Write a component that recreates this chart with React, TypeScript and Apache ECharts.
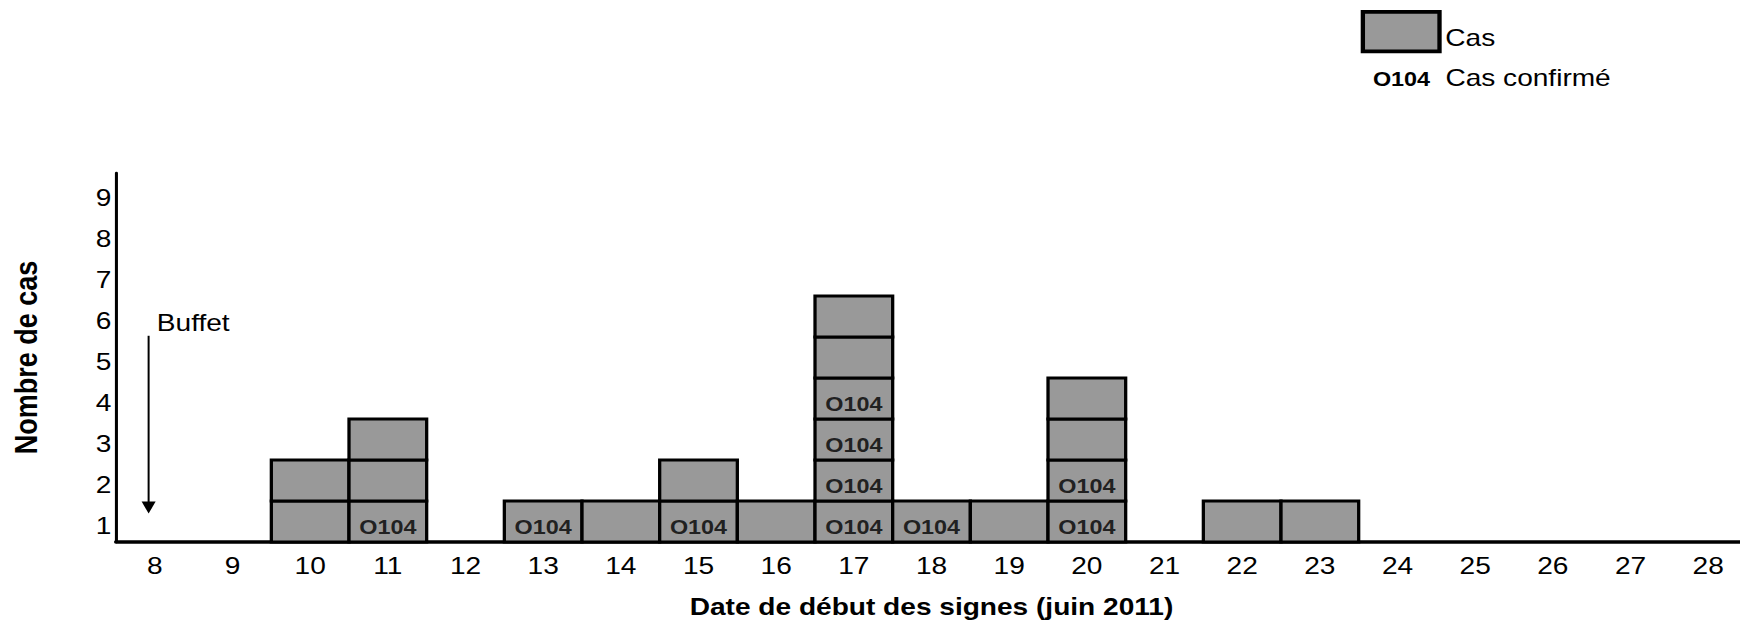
import React, { useEffect, useRef } from "react";
import * as echarts from "echarts";

// ---------- data ----------
const DAYS = ["8", "9", "10", "11", "12", "13", "14", "15", "16", "17", "18", "19", "20", "21", "22", "23", "24", "25", "26", "27", "28"];
const CASES = [0, 0, 2, 3, 0, 1, 1, 2, 1, 6, 1, 1, 4, 0, 1, 1, 0, 0, 0, 0, 0];
const CONFIRMED = [0, 0, 0, 1, 0, 1, 0, 1, 0, 4, 1, 0, 2, 0, 0, 0, 0, 0, 0, 0, 0];
const Y_LABELS = ["1", "2", "3", "4", "5", "6", "7", "8", "9"];
const CONFIRMED_TAG = "O104";

// annotation (day position on a continuous day scale, case-count heights)
const BUFFET_DAY = 7.92;
const BUFFET_ARROW_TOP = 5.03;
const BUFFET_ARROW_END = 0.84;
const BUFFET_LABEL_Y = 5.36;

// ---------- layout ----------
const FULL_W = 1740;
const H = 622;
const W = 1487; // drawn narrower, then stretched horizontally like the reference
const STRETCH = FULL_W / W;
const FONT = "'Liberation Sans', Arial, Helvetica, sans-serif";

export default function App() {
  const ref = useRef<HTMLDivElement>(null);

  useEffect(() => {
    if (!ref.current) return;
    const chart = echarts.init(ref.current, null, { renderer: "svg" });

    // one cell per case: [day, level]
    const cells: any[] = [];
    CASES.forEach((n, i) => {
      for (let L = 1; L <= n; L++) cells.push([DAYS[i], L]);
    });

    const confirmedPoints: any[] = [];
    CONFIRMED.forEach((n, i) => {
      for (let L = 1; L <= n; L++) confirmedPoints.push([DAYS[i], L - 0.5]);
    });

    const option: any = {
      animation: false,
      backgroundColor: "#ffffff",
      textStyle: { fontFamily: FONT },
      grid: {
        left: 116 / STRETCH,
        right: -6,
        top: 173,
        bottom: 80,
        containLabel: false,
        outerBoundsMode: "none",
      },
      legend: [
        {
          data: ["Cas"],
          left: 1360.7 / STRETCH,
          top: 10,
          padding: 0,
          icon: "rect",
          itemWidth: 65.5,
          itemHeight: 39.6,
          selectedMode: false,
          itemStyle: { color: "#999999", borderColor: "#000000", borderWidth: 3.7 },
          formatter: (name: string) => `{c|${name}}`,
          textStyle: {
            fontFamily: FONT,
            fontSize: 24,
            color: "#000",
            rich: {
              c: { fontFamily: FONT, fontSize: 24, color: "#000", padding: [12, 0, 0, 0] },
            },
          },
        },
        {
          data: ["Cas confirmé"],
          left: 1164.3,
          top: 65.5,
          padding: 0,
          icon: "rect",
          itemWidth: 4,
          itemHeight: 24,
          selectedMode: false,
          itemStyle: { color: "rgba(0,0,0,0)", borderWidth: 0 },
          formatter: (name: string) => `{o|${CONFIRMED_TAG}}${name}`,
          textStyle: {
            fontFamily: FONT,
            fontSize: 24,
            color: "#000",
            rich: {
              o: {
                fontFamily: FONT,
                fontSize: 20,
                fontWeight: "bold",
                color: "#000",
                verticalAlign: "bottom",
                padding: [0, 13, 0, 0],
              },
            },
          },
        },
      ],
      xAxis: [
        {
          type: "category",
          data: DAYS,
          boundaryGap: true,
          name: "Date de début des signes (juin 2011)",
          nameLocation: "middle",
          nameGap: 53,
          nameTextStyle: { fontFamily: FONT, fontSize: 24, fontWeight: "bold", color: "#000" },
          axisLine: { show: true, lineStyle: { color: "#000", width: 3.5 } },
          axisTick: { show: false },
          splitLine: { show: false },
          axisLabel: { interval: 0, margin: 12, fontFamily: FONT, fontSize: 24, color: "#000" },
        },
        {
          type: "value",
          show: false,
          min: 7.5,
          max: 28.5,
          splitLine: { show: false },
        },
      ],
      yAxis: {
        type: "value",
        min: 0,
        max: 9,
        interval: 1,
        name: "Nombre de cas",
        nameLocation: "middle",
        nameGap: 64,
        nameRotate: 90,
        nameTextStyle: { fontFamily: FONT, fontSize: 27, fontWeight: "bold", color: "#000" },
        axisLine: { show: true, lineStyle: { color: "#000", width: 2.6 } },
        axisTick: { show: false },
        splitLine: { show: false },
        axisLabel: {
          showMinLabel: true,
          showMaxLabel: true,
          margin: 4,
          fontFamily: FONT,
          fontSize: 24,
          color: "#000",
          verticalAlign: "bottom",
          padding: [0, 0, 4, 0],
          formatter: (v: number) => (v < Y_LABELS.length ? Y_LABELS[v] : ""),
        },
      },
      series: [
        {
          type: "custom",
          name: "Cas",
          data: cells,
          silent: true,
          z: 2,
          itemStyle: { color: "#999999", borderColor: "#000000", borderWidth: 2.8 },
          renderItem: (params: any, api: any) => {
            const day = api.value(0);
            const level = api.value(1);
            const top = api.coord([day, level]);
            const bottom = api.coord([day, level - 1]);
            const bandW = api.size([1, 0])[0];
            return {
              type: "rect",
              shape: { x: top[0] - bandW / 2, y: top[1], width: bandW, height: bottom[1] - top[1] },
              style: { fill: "#999999", stroke: "#000000", lineWidth: 2.8 },
            };
          },
        },
        {
          type: "scatter",
          name: "Cas confirmé",
          data: confirmedPoints,
          symbol: "circle",
          symbolSize: 0,
          silent: true,
          z: 5,
          itemStyle: { color: "rgba(0,0,0,0)" },
          label: {
            show: true,
            position: "inside",
            offset: [0, 6],
            formatter: CONFIRMED_TAG,
            fontFamily: FONT,
            fontWeight: "bold",
            fontSize: 20,
            color: "#000",
          },
        },
        {
          type: "scatter",
          name: "annotation",
          xAxisIndex: 1,
          data: [],
          silent: true,
          markLine: {
            silent: true,
            animation: false,
            symbol: ["none", "triangle"],
            symbolSize: 12,
            label: { show: false },
            lineStyle: { color: "#000", width: 1.7, type: "solid" },
            emphasis: { disabled: true },
            data: [[{ coord: [BUFFET_DAY, BUFFET_ARROW_TOP] }, { coord: [BUFFET_DAY, BUFFET_ARROW_END] }]],
          },
          markPoint: {
            silent: true,
            animation: false,
            symbol: "circle",
            symbolSize: 0,
            itemStyle: { color: "rgba(0,0,0,0)" },
            label: {
              show: true,
              position: "right",
              distance: 7,
              formatter: "Buffet",
              fontFamily: FONT,
              fontSize: 24,
              color: "#000",
            },
            data: [{ coord: [BUFFET_DAY, BUFFET_LABEL_Y] }],
          },
        },
      ],
    };

    chart.setOption(option);
    return () => chart.dispose();
  }, []);

  return (
    <div
      ref={ref}
      style={{
        position: "absolute",
        left: 0,
        top: 0,
        width: W,
        height: H,
        transform: `scaleX(${STRETCH})`,
        transformOrigin: "0 0",
      }}
    />
  );
}
